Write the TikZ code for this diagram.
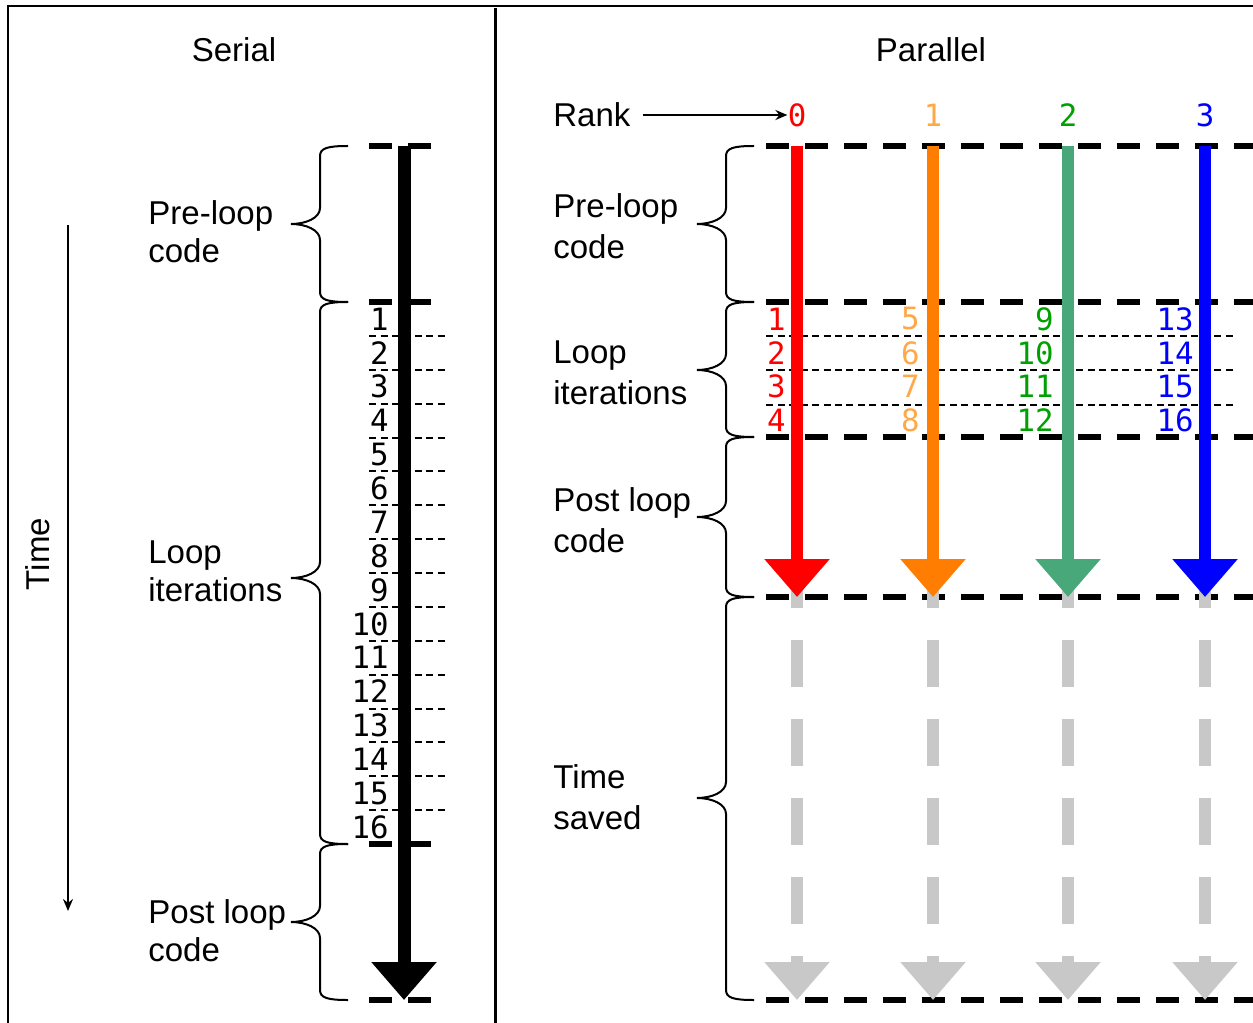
\documentclass[tikz,border=0pt]{standalone}
\usepackage{fontspec}
\setmainfont{Liberation Sans}
\newfontfamily\digitfont{DejaVu Sans Mono}
\usetikzlibrary{arrows.meta, positioning}

\definecolor{rankred}{RGB}{255,0,0}
\definecolor{rankorange}{RGB}{255,125,0}
\definecolor{rankgreen}{RGB}{72,168,122}
\definecolor{rankblue}{RGB}{0,0,255}
\definecolor{numorange}{RGB}{255,168,72}
\definecolor{numgreen}{RGB}{0,160,0}
\definecolor{savedgray}{RGB}{200,200,200}

% curly brace opening to the right: right x, top y, bottom y, tip y
\newcommand{\codebrace}[4]{%
  \draw[bracepen] (#1,#2) .. controls ({#1-20},#2) and ({#1-28},{#2+2}) .. ({#1-28},{#2+10})
    -- ({#1-28},{#4-16}) .. controls ({#1-28},{#4-6}) and ({#1-42},{#4}) .. ({#1-57},#4)
    .. controls ({#1-42},{#4}) and ({#1-28},{#4+6}) .. ({#1-28},{#4+16})
    -- ({#1-28},{#3-10}) .. controls ({#1-28},{#3-2}) and ({#1-20},#3) .. (#1,#3);}

\tikzset{
  label text/.style={inner sep=0pt, font=\fontsize{18.8}{21.5}\selectfont},
  block text/.style={label text, align=left, anchor=west},
  wide text/.style={block text, font=\fontsize{18.8}{23.2}\selectfont},
  iter num/.style={inner sep=0pt, font=\digitfont\fontsize{17.5}{20}\selectfont, anchor=east},
  phase line/.style={line width=0.11cm, dash pattern=on 0.46cm off 0.32cm},
  iter line/.style={line width=0.04cm, dash pattern=on 0.14cm off 0.09cm},
  bracepen/.style={line width=0.04cm},
  big arrow/.style={line width=0.24cm, -{Triangle[width=1.26cm,length=0.76cm]}},
  saved arrow/.style={big arrow, savedgray, dash pattern=on 0.94cm off 0.64cm},
}

\begin{document}
\begin{tikzpicture}[x=0.02cm, y=-0.02cm]
\useasboundingbox (0,0) rectangle (1253,1023);
% frame
\draw[line width=0.04cm] (1253,6) -- (8,6) -- (8,1023);
\draw[line width=0.06cm] (495,8) -- (495,1023);

% ---------- serial ----------
\node[label text] (serial) at (234,50) {Serial};
\coordinate (time top) at (68,225);
\coordinate (time end) at (68,911);
\draw[line width=0.045cm, -{Stealth[length=0.24cm,width=0.2cm]}] (time top) -- (time end);
\node[label text, rotate=90] (time) at (38,554) {Time};

\foreach \y in {146,302,844,1000}
  \draw[phase line] (369,\y) -- (433,\y);
\foreach \i in {1,...,15}
  \draw[iter line] (369,{302+33.875*\i}) -- (445,{302+33.875*\i});
\foreach \i in {1,...,16}
  \node[iter num] (s\i) at (389,{302+33.875*(\i-0.5)}) {\i};

\coordinate (serial top) at (404,146);
\coordinate (serial end) at (404,1000);
\draw[big arrow, line width=0.26cm] (serial top) -- (serial end);

\codebrace{348}{146}{302}{224}
\codebrace{348}{302}{844}{578}
\codebrace{348}{844}{1000}{922}
\node[block text] (s pre) at (148,232) {Pre-loop\\code};
\node[block text] (s loop) at (148,571) {Loop\\iterations};
\node[block text] (s post) at (148,931) {Post loop\\code};

% ---------- parallel ----------
\node[label text] (parallel) at (931,50) {Parallel};
\node[label text, anchor=west] (rank) at (553,115) {Rank};
\foreach \r/\x/\cl in {0/797/rankred, 1/933/numorange, 2/1068/numgreen, 3/1205/rankblue}
  \node[iter num, anchor=center, \cl] (r\r) at (\x,115) {\r};
\draw[line width=0.045cm, shorten <=0.24cm, -{Stealth[length=0.24cm,width=0.2cm]}] (rank) -- (r0);

\foreach \y in {146,302,437,597,1000}
  \draw[phase line] (766,\y) -- (1253,\y);
\foreach \y in {336,370,405}
  \draw[iter line] (766,\y) -- (1234,\y);

% time saved (greyed out)
\foreach \x in {797,933,1068,1205}
  \draw[saved arrow] (\x,561) -- (\x,1000);

\foreach \r/\x/\cl in {0/797/rankred, 1/933/rankorange, 2/1068/rankgreen, 3/1205/rankblue} {
  \coordinate (p\r top) at (\x,146);
  \coordinate (p\r end) at (\x,597);
  \draw[big arrow, \cl] (p\r top) -- (p\r end);
}

\foreach \c/\xr/\cl in {0/786/rankred, 1/920/numorange, 2/1054/numgreen, 3/1194/rankblue}
  \foreach \i in {1,...,4} {
    \pgfmathtruncatemacro\n{4*\c+\i}
    \node[iter num, \cl] (p\n) at (\xr,{302+33.875*(\i-0.5)}) {\n};
  }

\codebrace{754}{146}{302}{224}
\codebrace{754}{302}{437}{370}
\codebrace{754}{437}{597}{517}
\codebrace{754}{597}{1000}{798}
\node[wide text] (p pre) at (553,226) {Pre-loop\\code};
\node[wide text] (p loop) at (553,373) {Loop\\iterations};
\node[wide text] (p post) at (553,520) {Post loop\\code};
\node[wide text] (p saved) at (553,797) {Time\\saved};
\end{tikzpicture}
\end{document}
